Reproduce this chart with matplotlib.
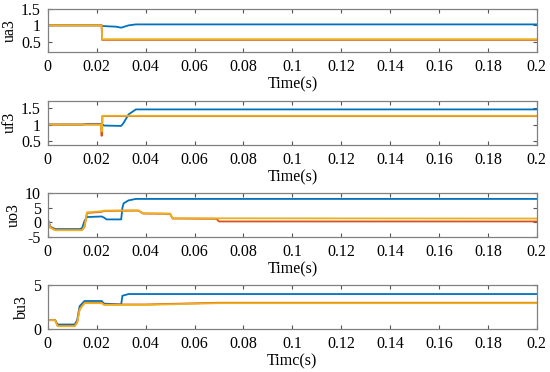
import numpy as np
import matplotlib
matplotlib.use("Agg")
import matplotlib.pyplot as plt

plt.rcParams["font.family"] = ["Liberation Serif", "DejaVu Serif"]

# ---- Data (breakpoints) -----------------------------------------------------
# ua3
ua_t_blue = [0, 0.022, 0.0225, 0.028, 0.030, 0.033, 0.036, 0.2]
ua_v_blue = [1.0, 1.0, 0.98, 0.96, 0.93, 1.0, 1.03, 1.03]
ua_t_org = [0, 0.022, 0.0222, 0.2]
ua_v_org = [1.0, 1.0, 0.56, 0.56]
ua_t_yel = [0, 0.022, 0.0222, 0.2]
ua_v_yel = [1.0, 1.0, 0.58, 0.58]

# uf3
uf_t_blue = [0, 0.014, 0.016, 0.022, 0.023, 0.029, 0.030, 0.031, 0.033, 0.036, 0.2]
uf_v_blue = [1.0, 1.0, 1.02, 1.02, 0.97, 0.96, 0.96, 1.05, 1.3, 1.45, 1.45]
uf_t_org = [0, 0.0218, 0.0219, 0.0222, 0.0223, 0.2]
uf_v_org = [1.0, 1.0, 0.67, 0.67, 1.25, 1.25]
uf_t_yel = [0, 0.0218, 0.0219, 0.0222, 0.0223, 0.2]
uf_v_yel = [1.0, 1.0, 0.8, 0.8, 1.26, 1.26]

# uo3
uo_t_blue = [0, 0.001, 0.003, 0.013, 0.014, 0.015, 0.016, 0.022, 0.023, 0.024, 0.030,
             0.0305, 0.031, 0.033, 0.036, 0.2]
uo_v_blue = [1.0, -1.5, -2.3, -2.3, -2.0, 0.5, 1.8, 2.0, 1.6, 1.0, 1.0,
             5.0, 6.5, 7.5, 8.0, 8.0]
uo_t_org = [0, 0.001, 0.003, 0.014, 0.015, 0.016, 0.022, 0.023, 0.037, 0.039, 0.050,
            0.051, 0.069, 0.070, 0.2]
uo_v_org = [1.0, -1.7, -2.6, -2.6, -1.5, 3.2, 3.6, 3.9, 4.0, 3.0, 2.9,
            1.3, 1.2, 0.3, 0.3]
uo_t_yel = [0, 0.001, 0.003, 0.014, 0.015, 0.016, 0.022, 0.023, 0.037, 0.039, 0.050,
            0.051, 0.2]
uo_v_yel = [1.0, -1.8, -2.7, -2.7, -1.5, 3.4, 3.8, 4.0, 4.1, 3.1, 3.0,
            1.4, 1.3]

# bu3
bu_t_blue = [0, 0.003, 0.004, 0.011, 0.012, 0.013, 0.015, 0.022, 0.023, 0.030,
             0.0305, 0.033, 0.2]
bu_v_blue = [1.0, 1.0, 0.5, 0.5, 1.0, 2.6, 3.2, 3.2, 2.9, 2.8, 3.8, 4.0, 4.0]
bu_t_org = [0, 0.003, 0.004, 0.011, 0.012, 0.013, 0.015, 0.022, 0.023, 0.040, 0.070, 0.2]
bu_v_org = [1.0, 1.0, 0.35, 0.35, 0.8, 2.3, 3.0, 3.0, 2.8, 2.8, 3.0, 3.0]
bu_t_yel = [0, 0.003, 0.004, 0.011, 0.012, 0.013, 0.015, 0.022, 0.023, 0.040, 0.070, 0.2]
bu_v_yel = [1.0, 1.0, 0.3, 0.3, 0.7, 2.2, 2.95, 2.95, 2.75, 2.75, 2.95, 2.95]

ylabels = ["ua3", "uf3", "uo3", "bu3"]
xlabels = ["Time(s)", "Time(s)", "Time(s)", "Timc(s)"]
ylims = [(0.2, 1.5), (0.4, 1.7), (-5, 10), (0, 5)]
yticks = [[0.5, 1, 1.5], [0.5, 1, 1.5], [-5, 0, 5, 10], [0, 5]]
yticklabels = [["0.5", "1", "1.5"], ["0.5", "1", "1.5"], ["-5", "0", "5", "10"], ["0", "5"]]
xticks = [0, 0.02, 0.04, 0.06, 0.08, 0.1, 0.12, 0.14, 0.16, 0.18, 0.2]
xticklabels = ["0", "0.02", "0.04", "0.06", "0.08", "0.1", "0.12", "0.14", "0.16", "0.18", "0.2"]

series = [
    [(ua_t_blue, ua_v_blue), (ua_t_org, ua_v_org), (ua_t_yel, ua_v_yel)],
    [(uf_t_blue, uf_v_blue), (uf_t_org, uf_v_org), (uf_t_yel, uf_v_yel)],
    [(uo_t_blue, uo_v_blue), (uo_t_org, uo_v_org), (uo_t_yel, uo_v_yel)],
    [(bu_t_blue, bu_v_blue), (bu_t_org, bu_v_org), (bu_t_yel, bu_v_yel)],
]
colors = ["#0072BD", "#D95319", "#EDB120"]

# ---- Layout ----------------------------------------------------------------
fig = plt.figure(figsize=(5.5, 3.72), dpi=100)
boxes = [(0.861, 0.976), (0.611, 0.7285), (0.363, 0.481), (0.116, 0.233)]
left, right = 0.087, 0.976

for i, (b, t) in enumerate(boxes):
    ax = fig.add_axes([left, b, right - left, t - b])
    for (tt, vv), c in zip(series[i], colors):
        ax.plot(tt, vv, color=c, linewidth=1.3)
    ax.set_xlim(0, 0.2)
    ax.set_ylim(*ylims[i])
    ax.set_xticks(xticks)
    ax.set_xticklabels(xticklabels)
    ax.set_yticks(yticks[i])
    ax.set_yticklabels(yticklabels[i])
    ax.tick_params(direction="in", top=True, right=True, length=3,
                   color="#555555", labelsize=11.5, pad=5)
    for s in ax.spines.values():
        s.set_color("#808080")
        s.set_linewidth(0.9)
    ax.set_ylabel(ylabels[i], fontsize=11.5, labelpad=2)
    ax.set_xlabel(xlabels[i], fontsize=11.5, labelpad=1)

fig.savefig("out.png", dpi=100, facecolor="white")
plt.close()
